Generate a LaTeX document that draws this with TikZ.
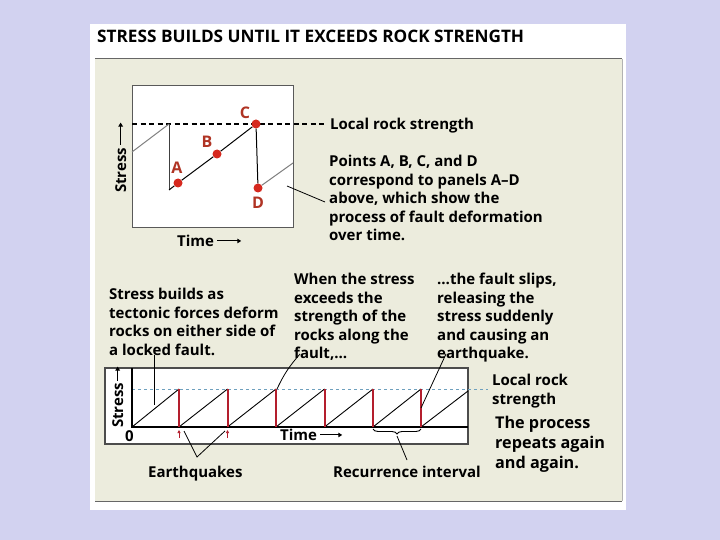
\documentclass[tikz,border=0pt]{standalone}
\usepackage{fontspec}
\setmainfont{Open Sans}
\usepackage{tikz}
\usetikzlibrary{arrows.meta,positioning,calc,decorations.pathreplacing}
\definecolor{pagebg}{RGB}{210,210,240}
\definecolor{panelbg}{RGB}{236,236,221}
\definecolor{dotred}{RGB}{214,40,30}
\definecolor{ltrred}{RGB}{176,52,36}
\definecolor{quakered}{RGB}{180,30,45}
\definecolor{strblue}{RGB}{110,160,190}

\begin{document}
\begin{tikzpicture}[x=1pt, y=-1pt,
    lbl/.style={font=\bfseries\fontsize{15}{18.5}\selectfont, align=left, inner sep=0pt, anchor=north west},
    bigl/.style={font=\bfseries\fontsize{16.2}{20}\selectfont, align=left, inner sep=0pt, anchor=north west},
    dot/.style={circle, fill=dotred, inner sep=0pt, minimum size=9pt},
    dotl/.style={font=\bfseries\fontsize{16}{16}\selectfont, text=ltrred, inner sep=0pt},
    axarr/.style={line width=1pt, -{Triangle[length=4pt, width=4.5pt]}},
    ptr/.style={line width=0.8pt},
    quake/.style={quakered, line width=2pt},
    >=Stealth
]
    \useasboundingbox (0,0) rectangle (720,540);
    \fill[pagebg] (0,0) rectangle (720,540);
    \fill[white] (90,24) rectangle (626,510);
    \fill[panelbg] (95,59) rectangle (622,501);
    \draw[gray!60] (622,59) -- (622,501);
    \draw[gray!80!black, line width=1pt] (95,59) -- (622,59);
    \draw[gray!80!black, line width=0.8pt] (95,501) -- (622,501);
    \node[font=\bfseries\fontsize{17.2}{17}\selectfont, anchor=north west, inner sep=0pt] (title) at (97,30) {STRESS BUILDS UNTIL IT EXCEEDS ROCK STRENGTH};

    % Top graph
    \draw[gray!70!black, fill=white] (132,85) rectangle (293,227);
    \coordinate (dl) at (132,124);
    \coordinate (dr) at (327,124);
    \node[lbl] (lrs) at (330,118) {Local rock strength};
    \draw[line width=1.8pt, dash pattern=on 5pt off 3.5pt] (dl) -- (dr);
    \coordinate (s0) at (132,152);
    \coordinate (top0) at (169,124);
    \coordinate (bot0) at (169,190);
    \coordinate (s1) at (293,163);
    \node[dot] (ptA) at (178,183) {};
    \node[dot] (ptB) at (217,154) {};
    \node[dot] (ptC) at (256,124) {};
    \node[dot] (ptD) at (258,188) {};
    \draw[gray, line width=1pt] (s0) -- (top0);
    \draw[darkgray, line width=1pt] (top0) -- (bot0);
    \draw[line width=1pt] (bot0) -- (ptA) -- (ptB) -- (ptC) -- (ptD);
    \draw[gray, line width=1pt] (ptD) -- (s1);
    \node[dotl] (lA) at (177,168) {A};
    \node[dotl] (lB) at (207,142) {B};
    \node[dotl] (lC) at (245,113) {C};
    \node[dotl] (lD) at (258,203) {D};
    \node[lbl, rotate=90, anchor=base west] (stressA) at (126,193) {Stress};
    \draw[axarr] ([yshift=3pt]stressA.east) -- ++(0,-22);
    \node[lbl] (timeA) at (177,235) {Time};
    \draw[axarr] ([xshift=3pt]timeA.east) -- ++(24,0);

    \node[lbl] (pts) at (329,155) {Points A, B, C, and D\\correspond to panels A--D\\above, which show the\\process of fault deformation\\over time.};
    \coordinate (pp1) at (287,186);
    \coordinate (pp2) at (325,202);
    \draw[ptr] (pp1) -- (pp2);

    % Captions
    \node[lbl] (build) at (109,288) {Stress builds as\\tectonic forces deform\\rocks on either side of\\a locked fault.};
    \node[lbl] (exceed) at (294,273) {When the stress\\exceeds the\\strength of the\\rocks along the\\fault,\dots};
    \node[lbl] (slip) at (437,273) {\dots the fault slips,\\releasing the\\stress suddenly\\and causing an\\earthquake.};

    % Bottom graph
    \draw[gray!60!black, line width=1.2pt, fill=white] (105,368) rectangle (468,444);
    \coordinate (o) at (132,427);
    \coordinate (ytop) at (132,368);
    \coordinate (xend) at (468,427);
    \node[lbl] (lrs2) at (492,374) {Local rock\\strength};
    \coordinate (bl) at (132,389);
    \coordinate (br) at (488,389);
    \draw[strblue, dashed] (bl) -- (br);
    \draw[line width=1.6pt] (ytop) -- (o) -- (xend);
    \coordinate (p1) at (179,389);   \coordinate (b1) at (179,427);
    \coordinate (p2) at (227.5,389); \coordinate (b2) at (227.5,427);
    \coordinate (p3) at (276,389);   \coordinate (b3) at (276,427);
    \coordinate (p4) at (324.5,389); \coordinate (b4) at (324.5,427);
    \coordinate (p5) at (373,389);   \coordinate (b5) at (373,427);
    \coordinate (p6) at (421,389);   \coordinate (b6) at (421,427);
    \coordinate (p7) at (468,391);
    \draw[line width=0.9pt] (o) -- (p1) (b1) -- (p2) (b2) -- (p3) (b3) -- (p4) (b4) -- (p5) (b5) -- (p6) (b6) -- (p7);
    \draw[quake] (p1) -- (b1) (p2) -- (b2) (p3) -- (b3) (p4) -- (b4) (p5) -- (b5) (p6) -- (b6);
    \draw[quakered, line width=0.7pt, -{Triangle[length=3pt, width=3pt]}] ([yshift=-11pt]b1) -- ([yshift=-3pt]b1);
    \draw[quakered, line width=0.7pt, -{Triangle[length=3pt, width=3pt]}] ([yshift=-11pt]b2) -- ([yshift=-3pt]b2);
    \node[lbl, rotate=90, anchor=base west] (stressB) at (123,428) {Stress};
    \draw[axarr] ([yshift=2pt]stressB.east) -- ++(0,-14);
    \node[lbl] (zero) at (125,430) {0};
    \node[lbl] (timeB) at (280,429) {Time};
    \draw[axarr] ([xshift=3pt]timeB.east) -- ++(22,0);
    \node[bigl] (again) at (495,416) {The process\\repeats again\\and again.};

    % Pointers
    \draw[decorate, decoration={brace, mirror, amplitude=5pt}, line width=0.9pt] ([yshift=-2pt]b5) -- ([yshift=-2pt]b6);
    \node[lbl] (quakes) at (148,466) {Earthquakes};
    \node[lbl] (recur) at (333,466) {Recurrence interval};
    \coordinate (eqv) at (197,457);
    \draw[ptr] (184,431) -- (eqv) -- (225,431);
    \draw[ptr] (397,436) -- (407,460);
    \draw[ptr] (154,355) -- (154,405);
    \draw[ptr] (300,354) to[bend right=8] (277,389);
    \draw[ptr] (446,354) -- (421,408);
\end{tikzpicture}
\end{document}
